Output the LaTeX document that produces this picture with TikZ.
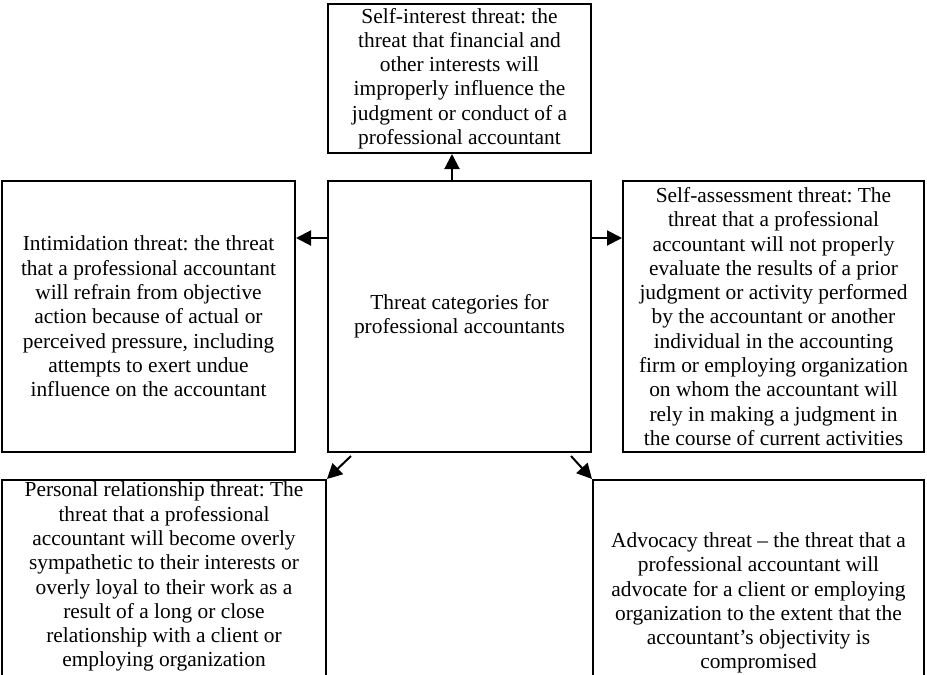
\documentclass[tikz,border=0pt]{standalone}
\usepackage{fontspec}
\setmainfont{Liberation Serif}
\usetikzlibrary{arrows.meta,positioning}
\frenchspacing

\begin{document}
\begin{tikzpicture}[node distance=13pt, >={Triangle[length=7.5pt,width=7.5pt]},
  threat/.style={rectangle, draw, line width=1pt, align=center, inner sep=1pt,
    font=\fontsize{10.7pt}{12.15pt}\selectfont}]
  \useasboundingbox[fill=white] (0,0) rectangle (463.5pt,-337.5pt);
  \clip (0,0) rectangle (463.5pt,-337.5pt);

  \node (categories) [threat, minimum width=131.5pt, minimum height=135.5pt] at (229.75pt,-158.25pt)
    {Threat categories for\\professional accountants};
  \node (selfinterest) [threat, minimum width=131.5pt, minimum height=74.5pt, above=of categories]
    {Self-interest threat: the\\threat that financial and\\other interests will\\improperly influence the\\judgment or conduct of a\\professional accountant};
  \node (intimidation) [threat, minimum width=146.5pt, minimum height=135.5pt, left=15.5pt of categories]
    {Intimidation threat: the threat\\that a professional accountant\\will refrain from objective\\action because of actual or\\perceived pressure, including\\attempts to exert undue\\influence on the accountant};
  \node (selfassess) [threat, minimum width=150.5pt, minimum height=135.5pt, right=15pt of categories]
    {Self-assessment threat: The\\threat that a professional\\accountant will not properly\\evaluate the results of a prior\\judgment or activity performed\\by the accountant or another\\individual in the accounting\\firm or employing organization\\on whom the accountant will\\rely in making a judgment in\\the course of current activities};
  \node (personal) [threat, minimum width=162pt, text depth=110pt, below left=13pt and 0pt of categories]
    {Personal relationship threat: The\\threat that a professional\\accountant will become overly\\sympathetic to their interests or\\overly loyal to their work as a\\result of a long or close\\relationship with a client or\\employing organization};
  \node (advocacy) [threat, minimum width=165.5pt, minimum height=123pt, below right=13pt and 0pt of categories]
    {Advocacy threat – the threat that a\\professional accountant will\\advocate for a client or employing\\organization to the extent that the\\accountant’s objectivity is\\compromised};

  \draw[->, line width=1pt] ([xshift=-3.75pt]categories.north) -- ([xshift=-3.75pt]selfinterest.south);
  \draw[->, line width=1pt] ([yshift=39.25pt]categories.west) -- ([yshift=39.25pt]intimidation.east);
  \draw[->, line width=1pt] ([yshift=39.25pt]categories.east) -- ([yshift=39.25pt]selfassess.west);
  \draw[->, line width=1pt] ([xshift=12pt,yshift=-1.5pt]categories.south west) -- (personal.north east);
  \draw[->, line width=1pt] ([xshift=-10.5pt,yshift=-1.5pt]categories.south east) -- (advocacy.north west);
\end{tikzpicture}
\end{document}
